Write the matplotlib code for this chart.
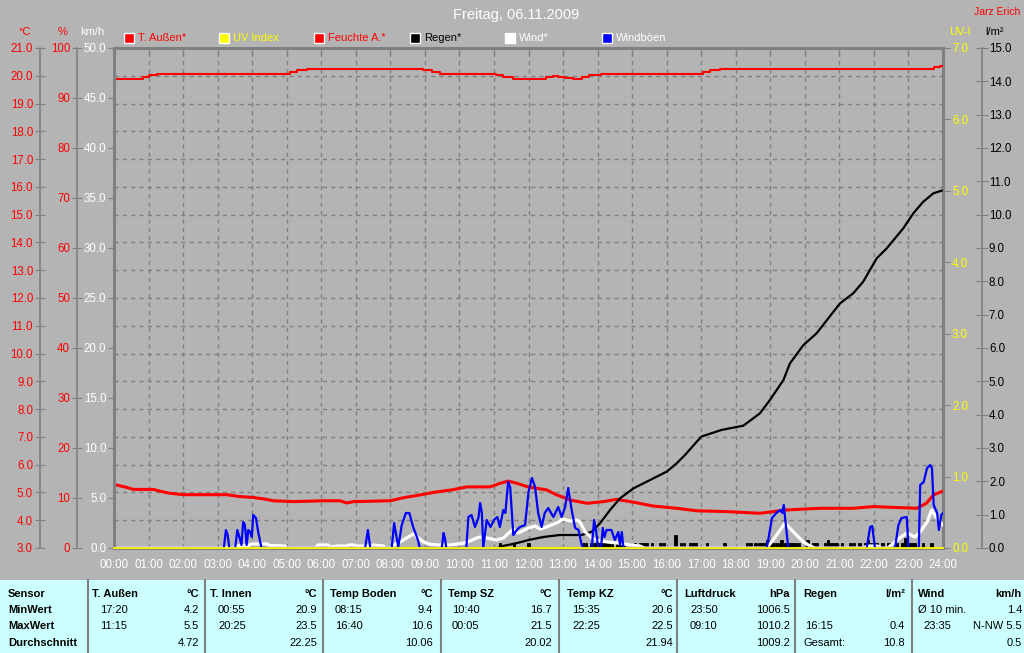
import matplotlib
matplotlib.use('Agg')
import matplotlib.pyplot as plt
from matplotlib.patches import Rectangle
from matplotlib.lines import Line2D
import numpy as np

plt.rcParams['font.family'] = ['Liberation Sans', 'DejaVu Sans']

# ---------------- data ----------------
title = "Freitag, 06.11.2009"
author = "Jarz Erich"
hour_labels = [f"{h:02d}:00" for h in range(25)]

# T. Außen (°C)
temp_t = [0, 0.17, 0.37, 0.56, 1.14, 1.38, 1.62, 2.01, 3.26, 3.65, 4.03, 4.42, 4.61, 5.19, 6.06, 6.54, 6.74,
          6.93, 7.99, 8.38, 8.86, 9.24, 9.82, 10.21, 10.89, 11.18, 11.42, 11.66, 11.99, 12.14, 12.53, 12.82,
          13.20, 13.69, 14.17, 14.55, 15.04, 15.61, 16.29, 16.87, 17.74, 18.70, 19.47, 20.44, 21.40, 21.98,
          23.24, 23.52, 23.72, 23.96]
temp_v = [5.29, 5.24, 5.18, 5.11, 5.11, 5.03, 4.97, 4.92, 4.92, 4.85, 4.82, 4.75, 4.70, 4.67, 4.70, 4.70, 4.62,
          4.67, 4.70, 4.81, 4.91, 5.00, 5.10, 5.20, 5.20, 5.33, 5.41, 5.33, 5.20, 5.17, 5.09, 4.91,
          4.73, 4.61, 4.67, 4.75, 4.65, 4.51, 4.43, 4.34, 4.31, 4.25, 4.37, 4.43, 4.43, 4.49,
          4.43, 4.61, 4.91, 5.03]

# Feuchte A. (%)
hum_t = [0, 0.83, 1.0, 1.25, 5.1, 5.3, 5.6, 8.95, 9.2, 9.45, 11.05, 11.25, 11.55, 12.5, 12.7, 12.85, 13.05,
         13.3, 13.55, 13.75, 14.1, 17.05, 17.25, 17.55, 23.75, 23.9, 24.0]
hum_v = [93.9, 94.3, 94.6, 94.9, 95.3, 95.6, 95.9, 95.6, 95.3, 94.9, 94.6, 94.3, 93.9, 94.3, 94.5, 94.3, 94.1,
         93.9, 94.3, 94.6, 94.9, 95.3, 95.6, 95.9, 96.3, 96.5, 96.5]

# UV Index
uv_t = [0, 24]
uv_v = [0, 0]

# Regen cumulative (l/m²)
rain_t = [11.17, 11.3, 11.5, 11.75, 12.0, 12.33, 12.5, 12.91, 13.54, 13.83, 14.07, 14.36, 14.65, 15.04, 15.52,
          16.0, 16.29, 16.53, 17.0, 17.58, 18.22, 18.70, 18.99, 19.38, 19.57, 19.96, 20.34, 20.83, 21.02, 21.40,
          21.69, 22.08, 22.37, 22.85, 23.14, 23.43, 23.72, 23.96]
rain_v = [0.04, 0.07, 0.11, 0.17, 0.24, 0.31, 0.34, 0.39, 0.39, 0.49, 0.74, 1.14, 1.49, 1.79, 2.04,
          2.29, 2.54, 2.79, 3.34, 3.54, 3.67, 4.04, 4.44, 5.04, 5.54, 6.09, 6.44, 7.09, 7.34, 7.64,
          7.99, 8.69, 8.99, 9.59, 10.04, 10.39, 10.64, 10.72]

# Regen per 5 min (l/m²)
rbar_t = [11.17, 11.58, 12.0, 13.58, 13.67, 13.83, 13.92, 14.0, 14.08, 14.17, 14.25, 14.33, 14.42, 14.58, 14.67,
          14.75, 15.08, 15.25, 15.33, 15.42, 15.58, 15.83, 15.92, 16.25, 16.42, 16.5, 16.67, 16.75, 16.83, 17.17,
          17.67, 18.33, 18.42, 18.58, 18.67, 18.75, 18.83, 18.92, 19.0, 19.08, 19.17, 19.25, 19.33, 19.42, 19.5,
          19.58, 19.67, 19.75, 19.83, 20.08, 20.25, 20.33, 20.58, 20.67, 20.75, 20.83, 20.92, 21.08, 21.33, 21.42,
          21.58, 21.75, 21.83, 21.92, 22.0, 22.08, 22.25, 22.42, 22.67, 22.83, 22.92, 23.0, 23.08, 23.17, 23.42,
          23.67]
rbar_v = [0.15, 0.15, 0.15, 0.15, 0.15, 0.15, 0.15, 0.15, 0.15, 0.15, 0.15, 0.15, 0.15, 0.15, 0.15,
          0.15, 0.15, 0.15, 0.15, 0.15, 0.15, 0.15, 0.15, 0.4, 0.15, 0.15, 0.15, 0.15, 0.15, 0.15,
          0.15, 0.15, 0.15, 0.15, 0.15, 0.15, 0.15, 0.25, 0.15, 0.15, 0.15, 0.15, 0.25, 0.15, 0.15,
          0.15, 0.15, 0.15, 0.15, 0.25, 0.15, 0.15, 0.15, 0.25, 0.15, 0.15, 0.15, 0.15, 0.15, 0.15,
          0.15, 0.15, 0.25, 0.15, 0.15, 0.15, 0.15, 0.15, 0.15, 0.15, 0.3, 0.15, 0.15, 0.15, 0.15,
          0.15]

# Wind (km/h)
wind_t = [0, 3.45, 3.55, 3.89, 4.0, 4.42, 4.5, 4.95, 5.0, 5.85, 5.9, 6.2, 6.25, 6.5, 6.75, 6.8, 6.95, 7.0,
          7.45, 7.5, 7.8, 7.85, 8.0, 8.09, 8.28, 8.47, 8.67, 8.81, 8.96, 9.15, 9.35, 9.73, 10.11, 10.3, 10.5,
          10.6, 10.79, 11.08, 11.27, 11.46, 11.56, 11.7, 12.0, 12.19, 12.33, 12.52, 12.81, 13.0, 13.2, 13.4,
          13.49, 13.64, 13.83, 14.07, 14.36, 14.65, 14.94, 15.23, 15.35, 18.9, 19.08, 19.43, 19.67, 19.96,
          20.15, 20.3, 21.7, 21.8, 22.1, 22.2, 22.4, 22.47, 22.75, 22.95, 23.19, 23.34, 23.54, 23.67, 23.80, 24.0]
wind_v = [0, 0, 0.2, 0.25, 0.4, 0.4, 0.25, 0.2, 0, 0, 0.3, 0.3, 0.1, 0.2, 0.2, 0.3, 0.3, 0.2,
          0.2, 0.3, 0.2, 0, 0, 0.3, 0.6, 1.0, 1.4, 1.0, 0.6, 0.37, 0.3, 0.3, 0.47, 0.7, 1.0,
          1.1, 1.0, 0.8, 1.0, 1.6, 1.9, 1.5, 2.0, 2.2, 1.9, 2.1, 2.5, 2.9, 2.7, 2.8,
          2.6, 1.6, 1.0, 0.7, 0.57, 0.47, 0.3, 0.2, 0, 0, 0.8, 2.5, 1.6, 0.6,
          0.2, 0, 0, 0.2, 0.2, 0, 0, 0.2, 1.0, 1.5, 1.1, 1.6, 2.6, 3.8, 3.1, 2.3]

# Windböen (km/h)
gust_t = [0, 3.18, 3.24, 3.29, 3.34, 3.51, 3.57, 3.63, 3.69, 3.74, 3.79, 3.84, 3.89, 3.94, 3.99, 4.03, 4.11,
          4.18, 4.27, 7.27, 7.35, 7.42, 8.04, 8.11, 8.17, 8.23, 8.33, 8.45, 8.55, 8.66, 8.80, 8.85, 9.49, 9.54,
          9.58, 9.62, 10.2, 10.26, 10.35, 10.45, 10.55, 10.6, 10.65, 10.69, 10.79, 10.9, 11.0, 11.1, 11.17,
          11.27, 11.33, 11.41, 11.47, 11.56, 11.66, 11.75, 11.9, 12.0, 12.1, 12.19, 12.28, 12.38, 12.47, 12.57,
          12.72, 12.86, 12.96, 13.06, 13.15, 13.25, 13.35, 13.45, 13.54, 13.59, 13.83, 13.9, 13.96, 14.02,
          14.1, 14.15, 14.2, 14.26, 14.4, 14.5, 14.6, 14.65, 14.7, 14.75, 18.9, 19.05, 19.2, 19.3, 19.35,
          19.39, 19.49, 19.52, 21.79, 21.89, 21.95, 22.03, 22.61, 22.71, 22.8, 22.95, 23.0, 23.3, 23.34,
          23.44, 23.54, 23.63, 23.68, 23.73, 23.83, 23.88, 23.95, 24.0]
gust_v = [0, 0, 1.8, 1.3, 0, 0, 1.8, 1.1, 0.3, 2.6, 2.3, 0.3, 1.8, 1.6, 1.1, 3.3, 3.0,
          1.5, 0, 0, 1.8, 0, 0, 2.5, 1.3, 0.1, 2.3, 3.5, 3.5, 2.1, 0.8, 0, 0, 1.5,
          1.0, 0, 0, 3.1, 3.3, 2.1, 3.0, 4.5, 3.5, 0, 2.8, 2.1, 2.8, 3.1, 2.1,
          3.8, 3.5, 6.6, 6.1, 1.3, 1.8, 2.1, 2.3, 5.6, 7.0, 6.1, 3.5, 2.1, 3.5, 4.0,
          3.1, 4.1, 3.1, 4.1, 6.0, 3.8, 2.0, 1.8, 0.3, 0, 0, 2.8, 1.6, 0,
          0, 2.0, 1.1, 1.8, 1.8, 0.8, 1.6, 0.3, 1.6, 0, 0, 3.0, 3.6, 3.8, 3.5,
          4.3, 1.0, 0, 0, 2.1, 2.2, 0, 0, 2.3, 3.0, 3.1, 0, 0, 6.3,
          6.6, 8.0, 8.3, 8.0, 4.3, 3.5, 1.8, 3.3, 3.5]

legend_labels = ["T. Außen*", "UV Index", "Feuchte A.*", "Regen*", "Wind*", "Windböen"]

# statistics table
row_labels = ["Sensor", "MinWert", "MaxWert", "Durchschnitt"]
tab_names = ["T. Außen", "T. Innen", "Temp Boden", "Temp SZ", "Temp KZ", "Luftdruck", "Regen", "Wind"]
tab_units = ["°C", "°C", "°C", "°C", "°C", "hPa", "l/m²", "km/h"]
tab_min_time = ["17:20", "00:55", "08:15", "10:40", "15:35", "23:50", "", "Ø 10 min."]
tab_min_val = ["4.2", "20.9", "9.4", "16.7", "20.6", "1006.5", "", "1.4"]
tab_max_time = ["11:15", "20:25", "16:40", "00:05", "22:25", "09:10", "16:15", "23:35"]
tab_max_val = ["5.5", "23.5", "10.6", "21.5", "22.5", "1010.2", "0.4", "N-NW 5.5"]
tab_avg_label = ["", "", "", "", "", "", "Gesamt:", ""]
tab_avg_val = ["4.72", "22.25", "10.06", "20.02", "21.94", "1009.2", "10.8", "0.5"]

# ---------------- styling ----------------
BG = '#b4b4b4'
GRAY = '#808080'
RED = '#ff0000'
YEL = '#ffff00'
BLUE = '#0000ff'
CYAN = '#ccffff'
W, H = 1024, 653

def fx(px):
    return px / W

def fy(py):
    return 1 - py / H

fig = plt.figure(figsize=(W / 100, H / 100), dpi=100, facecolor=BG)

L, R, T, B = 114, 943, 48, 548
rect = [fx(L), fy(B), (R - L) / W, (B - T) / H]
span = R - L

# °C axis (host with grid and frame)
ax_c = fig.add_axes(rect, facecolor=BG, zorder=1, label='c')
ax_c.set_xlim(0, 24)
ax_c.set_ylim(3, 21)
ax_c.set_xticks(range(25))
ax_c.set_xticklabels(hour_labels)
ax_c.set_yticks(np.arange(3, 21.01, 1))
ax_c.set_yticklabels([f"{v:.1f}" for v in np.arange(3, 21.01, 1)])
ax_c.grid(True, color=GRAY, ls=(0, (3, 3)), lw=1)
ax_c.set_axisbelow(True)
ax_c.spines['left'].set_position(('axes', (40 - L) / span))
ax_c.spines['left'].set_color(GRAY)
ax_c.spines['left'].set_linewidth(1.2)
for s in ['top', 'right', 'bottom']:
    ax_c.spines[s].set_color(GRAY)
    ax_c.spines[s].set_linewidth(2.2)
ax_c.tick_params(axis='y', direction='inout', length=7, color=GRAY, labelcolor=RED, labelsize=8.3, pad=1.5)
ax_c.tick_params(axis='x', length=0, labelcolor='white', labelsize=8.3, pad=8)
ax_c.plot(temp_t, temp_v, color=RED, lw=2.2, zorder=3)


def overlay(z, name):
    a = fig.add_axes(rect, facecolor='none', zorder=z, label=name)
    a.set_xlim(0, 24)
    for s in a.spines.values():
        s.set_visible(False)
    a.tick_params(axis='x', bottom=False, labelbottom=False, top=False, labeltop=False)
    a.grid(False)
    return a

# % axis
ax_p = overlay(2, 'p')
ax_p.set_ylim(0, 100)
ax_p.set_yticks(np.arange(0, 101, 10))
ax_p.set_yticklabels([f"{v}" for v in range(0, 101, 10)])
ax_p.spines['left'].set_visible(True)
ax_p.spines['left'].set_position(('axes', (77 - L) / span))
ax_p.spines['left'].set_color(GRAY)
ax_p.spines['left'].set_linewidth(1.2)
ax_p.tick_params(axis='y', direction='inout', length=7, color=GRAY, labelcolor=RED, labelsize=8.3, pad=1.5)
ax_p.plot(hum_t, hum_v, color=RED, lw=1.5, drawstyle='steps-post')

# l/m² axis
ax_l = overlay(3, 'l')
ax_l.set_ylim(0, 15)
ax_l.yaxis.tick_right()
ax_l.set_yticks(np.arange(0, 15.01, 1))
ax_l.set_yticklabels([f"{v:.1f}" for v in np.arange(0, 15.01, 1)])
ax_l.spines['right'].set_visible(True)
ax_l.spines['right'].set_position(('axes', (982 - L) / span))
ax_l.spines['right'].set_color(GRAY)
ax_l.spines['right'].set_linewidth(1.2)
ax_l.tick_params(axis='y', direction='inout', length=8, color=GRAY, labelcolor='black', labelsize=8.3, pad=1)
ax_l.bar(rbar_t, rbar_v, width=0.075, color='black', edgecolor='black', linewidth=0.6, align='center')
ax_l.plot(rain_t, rain_v, color='black', lw=1.6)

# km/h axis
ax_k = overlay(4, 'k')
ax_k.set_ylim(0, 50)
ax_k.set_yticks(np.arange(0, 50.01, 5))
ax_k.set_yticklabels([f"{v:.1f}" for v in np.arange(0, 50.01, 5)])
ax_k.spines['left'].set_visible(True)
ax_k.spines['left'].set_color(GRAY)
ax_k.spines['left'].set_linewidth(2.2)
ax_k.tick_params(axis='y', direction='out', length=4, color=GRAY, labelcolor='white', labelsize=8.3, pad=1.5)
ax_k.set_xticks(range(25))
ax_k.tick_params(axis='x', top=True, direction='in', length=4, color=GRAY, width=1)
ax_k.plot(wind_t, wind_v, color='white', lw=2.3)
ax_k.plot(gust_t, gust_v, color=BLUE, lw=1.6)

# UV axis
ax_u = overlay(5, 'u')
ax_u.set_ylim(0, 7)
ax_u.yaxis.tick_right()
ax_u.set_yticks(np.arange(0, 7.01, 1))
ax_u.set_yticklabels([f"{v:.1f}" for v in np.arange(0, 7.01, 1)])
ax_u.tick_params(axis='y', direction='out', length=5, color=GRAY, labelcolor=YEL, labelsize=8.3, pad=1.5)
ax_u.plot(uv_t, uv_v, color=YEL, lw=1.3, clip_on=False)

# axis unit labels
fig.text(fx(25), fy(32), "°C", color=RED, fontsize=8, ha='center', va='center')
fig.text(fx(63), fy(32), "%", color=RED, fontsize=8, ha='center', va='center')
fig.text(fx(92), fy(32), "km/h", color='white', fontsize=8, ha='center', va='center')
fig.text(fx(960), fy(32), "UV-I", color=YEL, fontsize=8, ha='center', va='center')
fig.text(fx(995), fy(32), "l/m²", color='black', fontsize=8, ha='center', va='center')

# title
fig.text(fx(516), fy(15), title, color='white', fontsize=10.5, ha='center', va='center')
fig.text(fx(1020), fy(12), author, color=RED, fontsize=7.5, ha='right', va='center')

# legend
leg_x = [124, 219, 314, 410, 505, 602]
leg_fill = [RED, YEL, RED, 'black', 'white', BLUE]
leg_text = [RED, YEL, RED, 'black', 'white', 'white']
for x, lab, fc, tc in zip(leg_x, legend_labels, leg_fill, leg_text):
    fig.add_artist(Rectangle((fx(x), fy(43)), 10 / W, 10 / H, transform=fig.transFigure,
                             facecolor=fc, edgecolor='white', lw=1))
    fig.text(fx(x + 14), fy(38), lab, color=tc, fontsize=8, ha='left', va='center')

# statistics table
fig.add_artist(Rectangle((0, 0), 1, fy(580), transform=fig.transFigure, facecolor=CYAN, edgecolor='none'))
seps = [88, 205, 323, 441, 559, 677, 795, 912]
for sx in seps:
    fig.add_artist(Line2D([fx(sx), fx(sx)], [0, fy(580)], transform=fig.transFigure, color=GRAY, lw=1.5))
row_y = [594, 610, 626, 643]
for ry, lab in zip(row_y, row_labels):
    fig.text(fx(8), fy(ry), lab, fontsize=8, fontweight='bold', ha='left', va='center', color='black')
col_left = [92, 210, 330, 448, 567, 684, 803, 918]
col_right = [199, 317, 433, 552, 673, 790, 905, 1022]
time_x = [100, 218, 335, 452, 572, 690, 805, 923]
for i in range(len(tab_names)):
    fig.text(fx(col_left[i]), fy(row_y[0]), tab_names[i], fontsize=8, fontweight='bold', ha='left', va='center')
    fig.text(fx(col_right[i]), fy(row_y[0]), tab_units[i], fontsize=8, fontweight='bold', ha='right', va='center')
    mtx = col_left[i] if tab_min_time[i].startswith('Ø') else time_x[i]
    fig.text(fx(mtx), fy(row_y[1]), tab_min_time[i], fontsize=8, ha='left', va='center')
    fig.text(fx(col_right[i]), fy(row_y[1]), tab_min_val[i], fontsize=8, ha='right', va='center')
    fig.text(fx(time_x[i]), fy(row_y[2]), tab_max_time[i], fontsize=8, ha='left', va='center')
    fig.text(fx(col_right[i]), fy(row_y[2]), tab_max_val[i], fontsize=8, ha='right', va='center')
    fig.text(fx(col_left[i]), fy(row_y[3]), tab_avg_label[i], fontsize=8, ha='left', va='center')
    fig.text(fx(col_right[i]), fy(row_y[3]), tab_avg_val[i], fontsize=8, ha='right', va='center')

fig.savefig('out.png', dpi=100, facecolor=BG)
